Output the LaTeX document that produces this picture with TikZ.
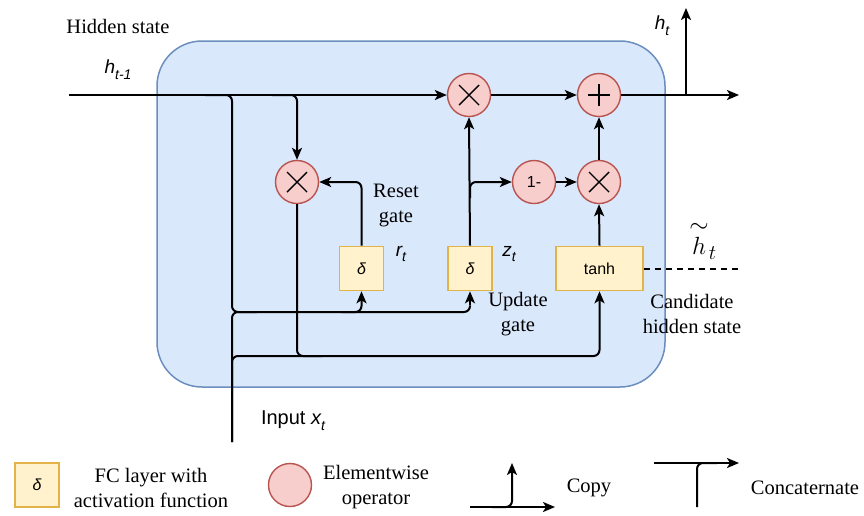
\documentclass[tikz,border=0pt]{standalone}
\usepackage{fontspec}
\usepackage{amsmath}
\setmainfont{Liberation Serif}
\setsansfont{Liberation Sans}
\usetikzlibrary{arrows.meta}
\definecolor{cellfill}{HTML}{DAE8FC}
\definecolor{celldraw}{HTML}{6C8EBF}
\definecolor{opfill}{HTML}{F8CECC}
\definecolor{opdraw}{HTML}{B85450}
\definecolor{fcfill}{HTML}{FFF2CC}
\definecolor{fcdraw}{HTML}{E3B347}
\newcommand{\sv}[2]{{\sffamily\itshape #1\raisebox{-0.3em}{\fontsize{14}{14}\selectfont #2}}}
\tikzset{
  wire/.style={line width=2pt, black},
  arr/.style={wire, -{Stealth[length=12pt,width=10pt,inset=3pt]}},
  rc/.style={rounded corners=6pt},
  opnode/.style={circle, draw=opdraw, fill=opfill, line width=1.4pt, minimum size=43pt, inner sep=0pt},
  fcbox/.style={draw=fcdraw, fill=fcfill, line width=1.6pt, minimum width=44pt, minimum height=44pt, inner sep=0pt, font=\sffamily\itshape\fontsize{16}{16}\selectfont},
  serif/.style={font=\fontsize{20.5}{25}\selectfont, align=center, inner sep=0pt},
  lbl/.style={inner sep=0pt, font=\fontsize{19}{19}\selectfont},
}
\newcommand{\timessym}[1]{\draw[line width=1.4pt] ([shift={(-10,-10)}]#1) -- ([shift={(10,10)}]#1) ([shift={(-10,10)}]#1) -- ([shift={(10,-10)}]#1);}
\newcommand{\plussym}[1]{\draw[line width=1.4pt] ([shift={(-11,0)}]#1) -- ([shift={(11,0)}]#1) ([shift={(0,-11)}]#1) -- ([shift={(0,11)}]#1);}
\begin{document}
\begin{tikzpicture}[x=1pt,y=-1pt]
\useasboundingbox (0,0) rectangle (864,515);
% cell
\draw[draw=celldraw, fill=cellfill, line width=1.5pt, rounded corners=45pt] (157,41) rectangle (665,387);

% operator nodes
\node[opnode] (m1) at (469,95) {};
\node[opnode] (plus) at (599,95) {};
\node[opnode] (m2) at (599,182) {};
\node[opnode, font=\sffamily\fontsize{16}{16}\selectfont] (om) at (534,182) {1-};
\node[opnode] (rx) at (297,182) {};
\timessym{m1.center}
\timessym{m2.center}
\timessym{rx.center}
\plussym{plus.center}

% FC boxes
\node[fcbox] (rbox) at (361.5,268.5) {δ};
\node[fcbox] (zbox) at (470,268.5) {δ};
\node[fcbox, minimum width=87pt, font=\sffamily\fontsize{16}{16}\selectfont] (tanh) at (599.5,268.5) {tanh};

% coordinates
\coordinate (hin) at (69,95);
\coordinate (hout) at (739,95);
\coordinate (hsplit) at (686,95);
\coordinate (htop) at (686,8);
\coordinate (brA) at (205,95);
\coordinate (brB) at (272,95);
\coordinate (xin) at (232,442);
\coordinate (cat1) at (232,312);
\coordinate (cat2) at (232,356);
\coordinate (htil) at (740,268.5);

% main line
\draw[arr] (hin) -- (m1.west);
\draw[arr] (m1.east) -- (plus.west);
\draw[arr] (plus.east) -- (hout);
\draw[arr] (hsplit) -- (htop);

% h_{t-1} copies
\draw[wire, rc] (brA) -- (cat1 |- brA) -- (cat1) -- (zbox.south |- cat1) -- ([yshift=-14pt]zbox.south);
\draw[arr] ([yshift=-14pt]zbox.south) -- (zbox.south);
\draw[arr, rc] ([xshift=-20pt]rbox.south |- cat1) -- (rbox.south |- cat1) -- (rbox.south);
\draw[arr, rc] (brB) -- (rx.north |- brB) -- (rx.north);

% input x_t
\draw[wire, rc] (xin) -- (cat1) -- ([xshift=25pt]cat1);
\draw[arr, rc] (xin) -- (cat2) -- (tanh.south |- cat2) -- (tanh.south);
\draw[wire, rc] (rx.south) -- (rx.south |- cat2) -- ([xshift=25pt]rx.south |- cat2);

% gates
\draw[arr, rc] (rbox.north) -- (rbox.north |- rx.east) -- (rx.east);
\draw[arr] (zbox.north) -- (m1.south);
\draw[arr, rc] ([yshift=-16pt]zbox.north |- om.west) -- (zbox.north |- om.west) -- (om.west);
\draw[arr] (om.east) -- (m2.west);
\draw[arr] (tanh.north) -- (m2.south);
\draw[arr] (m2.north) -- (plus.south);
\draw[wire, dashed, dash pattern=on 6pt off 5pt] (tanh.east) -- (htil);

% labels
\node[serif] (lhid) at (118,26) {Hidden state};
\node[lbl] (lhprev) at (118,70) {\sv{h}{t-1}};
\node[lbl] (lht) at (662,26) {\sv{h}{t}};
\node[lbl] (lrt) at (401,254) {\sv{r}{t}};
\node[lbl] (lzt) at (509,254) {\sv{z}{t}};
\node[serif] (lreset) at (396,205.5) {Reset\\gate};
\node[serif] (lupd) at (518,314) {Update\\gate};
\node[serif] (lcand) at (692,314) {Candidate\\hidden state};
\node[inner sep=0pt, font=\fontsize{30}{30}\selectfont] (lhtil) at (703,240) {$\overset{\textstyle\sim}{h}_{t}$};
\node[inner sep=0pt, font=\sffamily\fontsize{20}{20}\selectfont] (linput) at (293,421) {Input \sv{x}{t}};

% legend
\node[fcbox] (legbox) at (37,485) {δ};
\node[serif] (legfc) at (151,487.5) {FC layer with\\activation function};
\node[opnode] (legop) at (290,485) {};
\node[serif] (legopt) at (376,487.5) {Elementwise\\operator};
\coordinate (cpA) at (470,507);
\coordinate (cpB) at (555,507);
\coordinate (cpC) at (512,463);
\draw[arr] (cpA) -- (cpB);
\draw[arr, rc] ([xshift=-20pt]cpC |- cpA) -- (cpC |- cpA) -- (cpC);
\node[serif] (lcopy) at (589,488) {Copy};
\coordinate (ctA) at (654,463);
\coordinate (ctB) at (739,463);
\coordinate (ctC) at (697,507);
\draw[arr] (ctA) -- (ctB);
\draw[wire, rc] (ctC) -- (ctC |- ctA) -- ([xshift=20pt]ctC |- ctA);
\node[serif] (lcat) at (805,488) {Concaternate};
\end{tikzpicture}
\end{document}
